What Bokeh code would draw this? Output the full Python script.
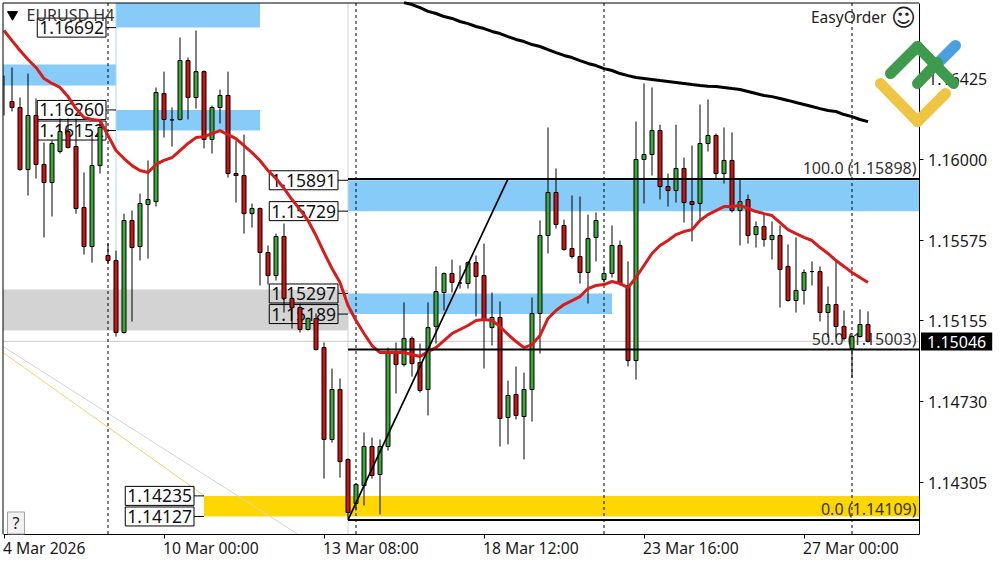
from bokeh.plotting import figure
from bokeh.models import Range1d, FixedTicker, Label, Arrow, LinearAxis
from bokeh.embed import file_html
from bokeh.resources import INLINE

symbol = "EURUSD H4"
tick_bars = [0, 20, 40, 60, 80, 100]
tick_dates = ["4 Mar 2026", "10 Mar 00:00", "13 Mar 08:00", "18 Mar 12:00", "23 Mar 16:00", "27 Mar 00:00"]
price_ticks = [1.14305, 1.14730, 1.15155, 1.15575, 1.16000, 1.16425]
separators = [13, 44, 75, 106]

opens = [1.16336,1.16304,1.16273,1.15947,1.16231,1.15974,1.15879,1.16042,1.16147,1.16068,1.15748,1.15543,1.15968,1.15496,1.15470,1.15092,1.15680,1.15543,1.15764,1.15779,1.16346,1.16208,1.16210,1.16519,1.16325,1.16461,1.16105,1.16273,1.16336,1.15926,1.15916,1.15716,1.15743,1.15512,1.15391,1.15596,1.15271,1.15223,1.15108,1.15166,1.15013,1.14531,1.14793,1.14426,1.14195,1.14289,1.14494,1.14347,1.14494,1.14992,1.14924,1.15061,1.14935,1.14793,1.15124,1.15302,1.15402,1.15352,1.15349,1.15459,1.15391,1.15118,1.15171,1.14646,1.14767,1.14651,1.14793,1.15192,1.15601,1.15827,1.15654,1.15533,1.15491,1.15407,1.15591,1.15370,1.15402,1.15549,1.15339,1.14945,1.16000,1.16026,1.16152,1.15858,1.15837,1.15953,1.15779,1.15769,1.16084,1.16126,1.15926,1.15995,1.15732,1.15790,1.15606,1.15648,1.15580,1.15601,1.15439,1.15260,1.15313,1.15412,1.15412,1.15197,1.15239,1.15124,1.15008,1.15071,1.15134]
highs = [1.16440,1.16483,1.16325,1.16451,1.16320,1.16089,1.16100,1.16215,1.16215,1.16215,1.15932,1.16136,1.16205,1.15559,1.15522,1.15716,1.15732,1.15821,1.15995,1.16378,1.16461,1.16273,1.16640,1.16535,1.16677,1.16467,1.16283,1.16367,1.16461,1.16100,1.16131,1.15769,1.15748,1.15549,1.15611,1.15664,1.15276,1.15244,1.15171,1.15192,1.15040,1.14903,1.14851,1.14431,1.14300,1.14568,1.14541,1.14531,1.15013,1.15040,1.15250,1.15071,1.15034,1.15250,1.15439,1.15407,1.15475,1.15444,1.15465,1.15496,1.15559,1.15302,1.15255,1.14840,1.14914,1.14882,1.15276,1.15680,1.16168,1.15953,1.15685,1.15811,1.15806,1.15711,1.15722,1.15439,1.15654,1.15575,1.15465,1.16199,1.16399,1.16378,1.16183,1.15926,1.16183,1.16010,1.16073,1.16289,1.16315,1.16136,1.16168,1.16142,1.15895,1.15816,1.15675,1.15711,1.15675,1.15654,1.15554,1.15591,1.15423,1.15465,1.15439,1.15334,1.15465,1.15208,1.15076,1.15213,1.15203]
lows = [1.16231,1.16252,1.15942,1.15811,1.15900,1.15591,1.15701,1.16031,1.16058,1.15716,1.15501,1.15459,1.15926,1.15454,1.15071,1.15087,1.15150,1.15470,1.15480,1.15753,1.16115,1.16068,1.16205,1.16210,1.16267,1.16058,1.16031,1.16189,1.15905,1.15774,1.15611,1.15643,1.15339,1.15344,1.15365,1.15197,1.15113,1.15092,1.15103,1.14998,1.14326,1.14515,1.14331,1.14116,1.14158,1.14185,1.14326,1.14137,1.14473,1.14772,1.14914,1.14861,1.14777,1.14657,1.15034,1.15208,1.15302,1.15323,1.15323,1.15176,1.14903,1.15024,1.14494,1.14505,1.14636,1.14426,1.14625,1.14982,1.15507,1.15638,1.15522,1.15480,1.15349,1.15244,1.15465,1.15355,1.15381,1.15339,1.14914,1.14845,1.15769,1.15916,1.15790,1.15753,1.15774,1.15669,1.15570,1.15680,1.16042,1.15895,1.15874,1.15722,1.15549,1.15559,1.15538,1.15543,1.15475,1.15223,1.15255,1.15197,1.15239,1.15339,1.15150,1.15066,1.15066,1.15050,1.14856,1.15066,1.15040]
closes = [1.16330,1.16273,1.15947,1.16231,1.15974,1.15879,1.16084,1.16147,1.16063,1.15743,1.15543,1.15968,1.16168,1.15470,1.15092,1.15680,1.15538,1.15769,1.15790,1.16351,1.16210,1.16208,1.16519,1.16325,1.16461,1.16105,1.16273,1.16336,1.15926,1.15916,1.15716,1.15743,1.15512,1.15391,1.15596,1.15271,1.15223,1.15108,1.15166,1.15003,1.14531,1.14793,1.14415,1.14148,1.14295,1.14494,1.14342,1.14494,1.14987,1.14924,1.15061,1.14929,1.14788,1.15118,1.15307,1.15402,1.15355,1.15352,1.15459,1.15386,1.15155,1.15171,1.14641,1.14762,1.14657,1.14793,1.15192,1.15601,1.15827,1.15659,1.15528,1.15491,1.15407,1.15585,1.15680,1.15402,1.15549,1.15349,1.14945,1.16000,1.16026,1.16152,1.15858,1.15837,1.15953,1.15774,1.15764,1.16084,1.16126,1.15926,1.15995,1.15732,1.15779,1.15601,1.15648,1.15580,1.15601,1.15423,1.15260,1.15313,1.15407,1.15412,1.15197,1.15239,1.15124,1.15061,1.15071,1.15134,1.15046]

ma_fast = [1.16677,1.16624,1.16572,1.16525,1.16483,1.16425,1.16399,1.16378,1.16330,1.16267,1.16220,1.16210,1.16205,1.16126,1.16047,1.16005,1.15968,1.15942,1.15932,1.15974,1.15995,1.16010,1.16047,1.16084,1.16115,1.16120,1.16136,1.16152,1.16131,1.16110,1.16073,1.16036,1.15995,1.15942,1.15900,1.15848,1.15790,1.15737,1.15680,1.15601,1.15512,1.15428,1.15355,1.15234,1.15155,1.15087,1.15024,1.14987,1.14987,1.14987,1.14987,1.14977,1.14966,1.14992,1.15013,1.15050,1.15087,1.15108,1.15129,1.15155,1.15160,1.15155,1.15124,1.15082,1.15045,1.15013,1.15029,1.15076,1.15166,1.15208,1.15239,1.15260,1.15281,1.15323,1.15339,1.15344,1.15360,1.15349,1.15328,1.15381,1.15444,1.15507,1.15549,1.15575,1.15606,1.15622,1.15632,1.15680,1.15711,1.15732,1.15753,1.15753,1.15759,1.15743,1.15727,1.15716,1.15706,1.15669,1.15632,1.15611,1.15591,1.15575,1.15538,1.15507,1.15470,1.15439,1.15407,1.15381,1.15355]
ma_slow_first_bar = 50
ma_slow = [1.16823,1.16813,1.16797,1.16777,1.16766,1.16750,1.16740,1.16724,1.16713,1.16698,1.16687,1.16672,1.16661,1.16645,1.16630,1.16619,1.16603,1.16593,1.16577,1.16561,1.16546,1.16535,1.16519,1.16504,1.16493,1.16477,1.16467,1.16451,1.16440,1.16430,1.16425,1.16420,1.16414,1.16409,1.16404,1.16399,1.16393,1.16388,1.16385,1.16383,1.16378,1.16372,1.16367,1.16357,1.16346,1.16336,1.16330,1.16320,1.16310,1.16299,1.16289,1.16278,1.16267,1.16257,1.16252,1.16236,1.16225,1.16210,1.16199]

bid = 1.15046
fib_levels = [1.15898, 1.15003, 1.14109]
fib_names = ["100.0", "50.0", "0.0"]
fib_start_bar, fib_end_bar = 43, 63

level_bars = [14, 14, 14, 43, 43, 43, 43, 25, 25]
level_values = [1.16692, 1.16260, 1.16152, 1.15891, 1.15729, 1.15297, 1.15189, 1.14235, 1.14127]


def x_at(px):
    return (px - 3.5) / 8


def y_at(py):
    return (116834.3 - 5.247 * py) / 1e5


LEFT, RIGHT = x_at(2.5), x_at(918.5)
TOP, BOTTOM = y_at(2.5), y_at(533.5)

# bar spans and price bounds of the zones
zone_left = [14, LEFT, 14, 43, 43]
zone_right = [32, 14, 32, RIGHT, 76]
zone_top = [TOP, 1.16498, 1.16260, 1.15891, 1.15297]
zone_bottom = [1.16692, 1.16388, 1.16152, 1.15729, 1.15189]
grey_zone = (LEFT, 43, 1.15318, 1.15103)
gold_zone = (25, RIGHT, 1.14235, 1.14127)

FONT = "Noto Sans"
# the frame fills the page so that marks may cross the price scale like the logo does
p = figure(width=1000, height=562, output_backend="svg", toolbar_location=None,
           x_range=Range1d(x_at(0), x_at(1000)), y_range=Range1d(y_at(562), y_at(0)),
           x_axis_location=None, y_axis_location=None, min_border=0,
           background_fill_color="white", outline_line_color=None)
p.grid.visible = False

xax = LinearAxis(fixed_location=BOTTOM, ticker=FixedTicker(ticks=tick_bars), bounds=(LEFT, RIGHT),
                 major_label_overrides={b: "" for b in tick_bars}, major_tick_in=0, major_tick_out=4,
                 minor_tick_line_color=None, axis_line_color="black")
p.add_layout(xax, "below")
yax = LinearAxis(fixed_location=RIGHT, ticker=FixedTicker(ticks=price_ticks), bounds=(BOTTOM, TOP),
                 major_label_overrides={t: f"{t:.5f}" for t in price_ticks}, major_tick_in=0, major_tick_out=4,
                 minor_tick_line_color=None, major_label_standoff=5, major_label_text_font=FONT,
                 major_label_text_font_size="16px", major_label_text_color="#1a1a1a", axis_line_color="black")
p.add_layout(yax, "right")
p.line(x=[LEFT, LEFT, RIGHT], y=[BOTTOM, TOP, TOP], line_color="black", line_width=1, level="guide")

BLUE = "#87CBF9"
p.quad(left=zone_left, right=zone_right, top=zone_top, bottom=zone_bottom,
       fill_color=BLUE, line_color=None, level="underlay")
p.quad(left=[grey_zone[0]], right=[grey_zone[1]], top=[grey_zone[2]], bottom=[grey_zone[3]],
       fill_color="#D3D3D3", line_color=None, level="underlay")
p.quad(left=[gold_zone[0]], right=[gold_zone[1]], top=[gold_zone[2]], bottom=[gold_zone[3]],
       fill_color="#FFD700", line_color=None, level="underlay")

# thin guide lines
p.segment(x0=[14], x1=[14], y0=[TOP], y1=[1.15318], line_color="#A8D8F5", line_width=1, level="underlay")
p.segment(x0=[43], x1=[43], y0=[TOP], y1=[BOTTOM], line_color="#D0D0D0", line_width=1, level="underlay")
p.line(x=[LEFT, RIGHT], y=[bid, bid], line_color="#C8C8C8", line_width=1, level="underlay")
p.line(x=[LEFT, 36.7], y=[1.15019, BOTTOM], line_color="#D4D4D8", line_width=1, level="underlay")
p.line(x=[LEFT, 25], y=[1.14987, 1.14237], line_color="#F2D46A", line_width=1, level="underlay")

# period separators
p.segment(x0=separators, x1=separators, y0=[TOP] * 4, y1=[BOTTOM] * 4, line_color="black",
          line_width=1, line_dash="3 3", level="underlay")

# boxed price levels with their short connectors
for b, v in zip(level_bars, level_values):
    p.segment(x0=[b - 1.25], x1=[b], y0=[v], y1=[v], line_color="black", line_width=1, level="underlay")
    p.add_layout(Label(x=b - 1.25, y=v, text=f"{v:.5f}", text_align="right", text_baseline="middle",
                       text_font=FONT, text_font_size="17.5px", text_color="#111111",
                       border_line_color="black", border_line_width=1,
                       padding=(2, 3), level="underlay"))

for lvl, name in zip(fib_levels, fib_names):
    p.add_layout(Label(x=x_at(916), y=lvl, text=f"{name} ({lvl:.5f})", text_align="right",
                       text_baseline="bottom", text_font=FONT, text_font_size="16px",
                       text_color="#333333", level="underlay"))

# candles (the first bar lies on the frame: only its wick shows)
bars = list(range(len(opens)))
up = [c >= o for o, c in zip(opens, closes)]
p.segment(x0=bars, x1=bars, y0=lows, y1=highs, line_color="black", line_width=1)
body_top = [max(o, c) for o, c in zip(opens, closes)]
body_bot = [min(o, c) for o, c in zip(opens, closes)]
body_col = ["#3DA63D" if u else "#CC1414" for u in up]
p.vbar(x=bars[1:], width=0.5, top=body_top[1:], bottom=body_bot[1:], fill_color=body_col[1:],
       line_color="black", line_width=1)

# moving averages
p.line(x=bars, y=ma_fast, line_color="#D81B1B", line_width=3)
p.line(x=list(range(ma_slow_first_bar, len(opens))), y=ma_slow, line_color="black", line_width=3)

# Fibonacci lines
for lvl in fib_levels:
    p.line(x=[fib_start_bar, RIGHT], y=[lvl, lvl], line_color="black", line_width=2)
p.line(x=[fib_start_bar, fib_end_bar], y=[fib_levels[2], fib_levels[0]], line_color="black", line_width=1.7)

# chart header
p.scatter(x=[x_at(12)], y=[y_at(14)], marker="inverted_triangle", size=10, fill_color="black", line_color="black")
p.add_layout(Label(x=x_at(26), y=y_at(14), text=symbol, text_baseline="middle", text_font=FONT,
                   text_font_size="16px", text_color="#333333", level="underlay"))
p.add_layout(Label(x=x_at(886), y=y_at(16), text="EasyOrder", text_align="right", text_baseline="middle",
                   text_font=FONT, text_font_size="15.5px", text_color="#222222"))
p.add_layout(Label(x=x_at(903), y=y_at(17), text="\u263A", text_align="center", text_baseline="middle",
                   text_font="DejaVu Sans", text_font_size="24px", text_color="#222222"))
p.add_layout(Label(x=x_at(15.5), y=y_at(522.5), text="?", text_align="center", text_baseline="middle",
                   text_font=FONT, text_font_size="16px", text_color="#222222",
                   background_fill_color="#F2F2F2", border_line_color="#A0A0A0", padding=(5, 0)))

# date labels start at their tick
for b, d in zip(tick_bars, tick_dates):
    p.add_layout(Label(x=b, y=y_at(547), x_offset=-1, text=d, text_baseline="middle", text_font=FONT,
                       text_font_size="15.7px", text_color="#1a1a1a", level="overlay"))

# last price tag
p.add_layout(Label(x=x_at(920.5), y=y_at(341), text=f"{bid:.5f}", text_baseline="middle", text_font=FONT,
                   text_font_size="16px", text_color="white", background_fill_color="black",
                   padding=(6, 3), level="overlay"))

# logo drawn over frame and scale
strokes = [
    ("#EEC644", (880, 83), (917, 121)), ("#EEC644", (917, 121), (945, 93)),
    ("#4A9FE0", (938, 62), (955, 45)),
    ("#3E9A4C", (890, 73), (917, 46)), ("#3E9A4C", (917, 46), (953, 83)), ("#3E9A4C", (917, 83), (937, 62)),
]
for col, a, b in strokes:
    p.add_layout(Arrow(end=None, x_start=x_at(a[0]), y_start=y_at(a[1]), x_end=x_at(b[0]), y_end=y_at(b[1]),
                       level="overlay", line_color=col, line_width=11, line_cap="round"))

open("out.html", "w").write(file_html(p, INLINE))
